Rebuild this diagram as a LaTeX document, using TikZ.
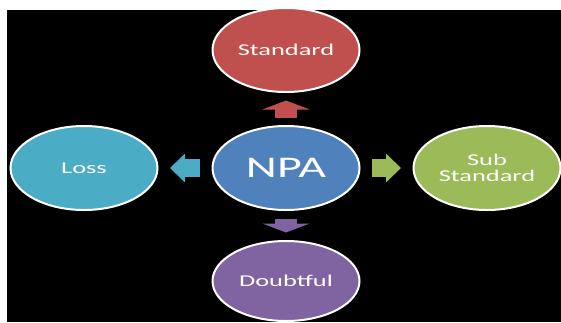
\documentclass[tikz,border=0pt]{standalone}
\usepackage{fontspec}
\newfontfamily\smartfont[FakeStretch=1.6]{Carlito}
\usetikzlibrary{positioning,shapes.geometric,arrows.meta}
\definecolor{npablue}{HTML}{4F81BD}
\definecolor{stdred}{HTML}{C0504D}
\definecolor{subgreen}{HTML}{9BBB59}
\definecolor{lossteal}{HTML}{4BACC6}
\definecolor{doubtpurple}{HTML}{8064A2}

\begin{document}
\begin{tikzpicture}[x=1pt,y=-1pt,
  bubble/.style={ellipse,draw=white,line width=2pt,text=white,
    minimum width=147pt,minimum height=84pt,inner sep=0pt,outer sep=0pt,
    align=center,font=\smartfont\fontsize{16.5}{16.5}\selectfont},
  vblock/.style={line width=22pt,shorten <=8.5pt,shorten >=8.5pt,
    -{Triangle[length=9pt,width=47pt]}},
  hblock/.style={line width=18pt,shorten <=12.5pt,shorten >=12.5pt,
    -{Triangle[length=15pt,width=28pt]}}
]
\useasboundingbox (0,0) rectangle (561,322);
\fill[white] (0,0) rectangle (561,322);
\fill[black] (7,9.5) rectangle (561,322);
% hub and the four grades round it
\node[bubble,fill=npablue,font=\smartfont\fontsize{30}{30}\selectfont] (npa) at (286,168) {NPA};
\node[bubble,fill=stdred,above=34pt of npa] (std) {Standard};
\node[bubble,fill=lossteal,left=55pt of npa] (loss) {Loss};
\node[bubble,fill=subgreen,right=54pt of npa] (sub) {Sub\\Standard};
\node[bubble,fill=doubtpurple,minimum height=80pt,below=31pt of npa] (doubt) {Doubtful};
%
\draw[vblock,stdred] (npa) -- (std);
\draw[vblock,doubtpurple] (npa) -- (doubt);
\draw[hblock,lossteal] (npa) -- (loss);
\draw[hblock,subgreen] (npa) -- (sub);
\end{tikzpicture}
\end{document}
